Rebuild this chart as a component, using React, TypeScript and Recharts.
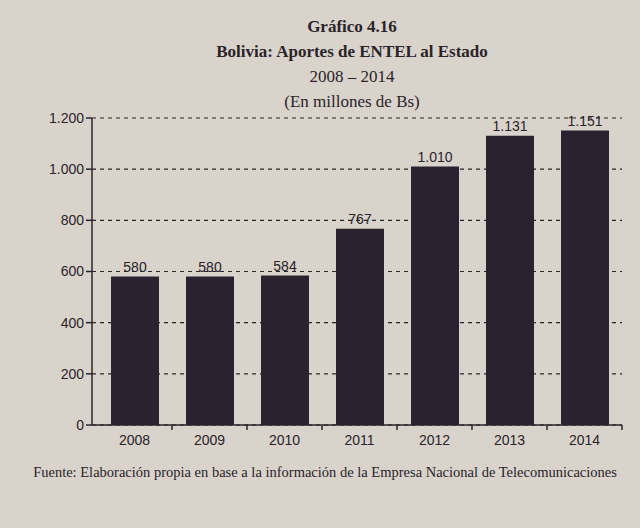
import { BarChart, Bar, XAxis, YAxis, CartesianGrid, LabelList } from "recharts"

const years = ["2008", "2009", "2010", "2011", "2012", "2013", "2014"]
const aportes = [580, 580, 584, 767, 1010, 1131, 1151]
const yTicks = [0, 200, 400, 600, 800, 1000, 1200]

const chartData = years.map((year, i) => ({ year, value: aportes[i] }))

const W = 640
const H = 528
const margin = { top: 118, right: 18, bottom: 73, left: 0 }
const yAxisWidth = 92
const xPadLeft = 5
const plotWidth = W - margin.left - margin.right - yAxisWidth - xPadLeft
const band = plotWidth / years.length

const ink = "#2a2428"
const barColor = "#2b2230"
const bg = "#d9d3cc"

// miles con punto, como en el original
const fmt = (v: number) => String(v).replace(/\B(?=(\d{3})+(?!\d))/g, ".")

function XTick(props: any) {
  const { x, y, payload } = props
  return (
    <g>
      <line x1={x + band / 2} y1={y - 8} x2={x + band / 2} y2={y - 3} stroke={ink} strokeWidth={1.5} />
      <text x={x} y={y + 12} textAnchor="middle" fill={ink} fontSize={14} fontFamily="Liberation Sans, Arial, sans-serif">
        {payload.value}
      </text>
    </g>
  )
}

export default function App() {
  return (
    <div style={{ position: "absolute", left: 0, top: 0, width: W, height: H, background: bg, color: ink, fontFamily: "Liberation Serif, serif" }}>
      <div style={{ position: "absolute", left: 92, width: 520, top: 14, textAlign: "center", lineHeight: "25px" }}>
        <div style={{ fontWeight: "bold", fontSize: 17 }}>Gráfico 4.16</div>
        <div style={{ fontWeight: "bold", fontSize: 17 }}>Bolivia: Aportes de ENTEL al Estado</div>
        <div style={{ fontSize: 17 }}>2008 – 2014</div>
        <div style={{ fontSize: 17 }}>(En millones de Bs)</div>
      </div>
      <BarChart width={W} height={H} data={chartData} margin={margin}>
        <CartesianGrid vertical={false} stroke={ink} strokeDasharray="4 4" strokeWidth={1.2} />
        <XAxis
          dataKey="year"
          axisLine={{ stroke: ink, strokeWidth: 1.5 }}
          tickLine={false}
          tick={<XTick />}
          padding={{ left: xPadLeft, right: 0 }}
          height={30}
        />
        <YAxis
          domain={[0, 1200]}
          ticks={yTicks}
          width={yAxisWidth}
          tickFormatter={fmt}
          axisLine={{ stroke: ink, strokeWidth: 1.5 }}
          tickLine={{ stroke: ink, strokeWidth: 1.5 }}
          tick={{ fill: ink, fontSize: 14, fontFamily: "Liberation Sans, Arial, sans-serif" }}
        />
        <Bar dataKey="value" fill={barColor} barSize={48} isAnimationActive={false}>
          <LabelList
            dataKey="value"
            position="top"
            formatter={(v: any) => fmt(Number(v))}
            fill={ink}
            fontSize={14}
            fontFamily="Liberation Sans, Arial, sans-serif"
          />
        </Bar>
      </BarChart>
      <div style={{ position: "absolute", left: 0, width: 650, top: 464, textAlign: "center", fontSize: 14.5 }}>
        Fuente: Elaboración propia en base a la información de la Empresa Nacional de Telecomunicaciones
      </div>
    </div>
  )
}
